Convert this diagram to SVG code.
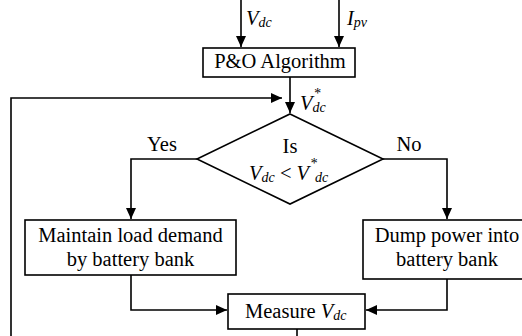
<svg xmlns="http://www.w3.org/2000/svg" width="522" height="336" viewBox="0 0 522 336" font-family="'Liberation Serif', 'Times New Roman', 'DejaVu Serif', serif">
<style>
.box{fill:#fff;stroke:#000;stroke-width:1.6}
.ln{fill:none;stroke:#000;stroke-width:1.6}
text{font-family:'Liberation Serif','Times New Roman','DejaVu Serif',serif;font-size:20.5px;fill:#000}
.it{font-style:italic}
.sub{font-style:italic;font-size:14px}
.c{text-anchor:middle}
</style>
<defs>
<marker id="ah" markerUnits="userSpaceOnUse" markerWidth="12" markerHeight="10" refX="11" refY="5" orient="auto">
<path d="M0,0 L11,5 L0,10 Z" fill="#000"/>
</marker>
</defs>
<rect width="522" height="336" fill="#fff"/>
<g id="connectors">
<path class="ln" d="M241,0 V47" marker-end="url(#ah)"/>
<path class="ln" d="M339,0 V47" marker-end="url(#ah)"/>
<path class="ln" d="M290,77 V113" marker-end="url(#ah)"/>
<path class="ln" d="M297,329 V340 H11 V98 H282" marker-end="url(#ah)"/>
<path class="ln" d="M197,159 H131 V219" marker-end="url(#ah)"/>
<path class="ln" d="M383,159 H447 V219" marker-end="url(#ah)"/>
<path class="ln" d="M131,275 V310 H227" marker-end="url(#ah)"/>
<path class="ln" d="M447,279 V310 H366" marker-end="url(#ah)"/>
</g>
<g id="lbl-vdc"><text x="246" y="25"><tspan class="it">V</tspan><tspan class="sub" dy="2">dc</tspan></text></g>
<g id="lbl-ipv"><text x="347" y="25"><tspan class="it">I</tspan><tspan class="sub" dy="2">pv</tspan></text></g>
<g id="po">
<rect class="box" x="203" y="48" width="152" height="29"/>
<text class="c" x="280" y="68">P&amp;O Algorithm</text>
</g>
<g id="lbl-vref"><text x="300" y="110"><tspan class="it">V</tspan><tspan class="sub" dy="-12" dx="1">*</tspan><tspan class="sub" dy="14" dx="-8">dc</tspan></text></g>
<g id="decision">
<polygon class="box" points="290,114 383,159 290,204 197,159"/>
<text class="c" x="290" y="153">Is</text>
<text x="249" y="180"><tspan class="it">V</tspan><tspan class="sub" dy="2">dc</tspan><tspan dy="-2"> &lt; </tspan><tspan class="it">V</tspan><tspan class="sub" dy="-12" dx="1">*</tspan><tspan class="sub" dy="14" dx="-2">dc</tspan></text>
</g>
<g id="lbl-yes"><text class="c" x="162" y="151">Yes</text></g>
<g id="lbl-no"><text class="c" x="409" y="151">No</text></g>
<g id="maintain">
<rect class="box" x="25" y="220" width="211" height="55"/>
<text class="c" x="130.5" y="242">Maintain load demand</text>
<text class="c" x="130.5" y="266">by battery bank</text>
</g>
<g id="dump">
<rect class="box" x="363" y="220" width="170" height="59"/>
<text class="c" x="447" y="242">Dump power into</text>
<text class="c" x="447" y="266">battery bank</text>
</g>
<g id="measure">
<rect class="box" x="228" y="294" width="137" height="35"/>
<text x="245" y="318">Measure <tspan class="it">V</tspan><tspan class="sub" dy="2">dc</tspan></text>
</g>
</svg>
